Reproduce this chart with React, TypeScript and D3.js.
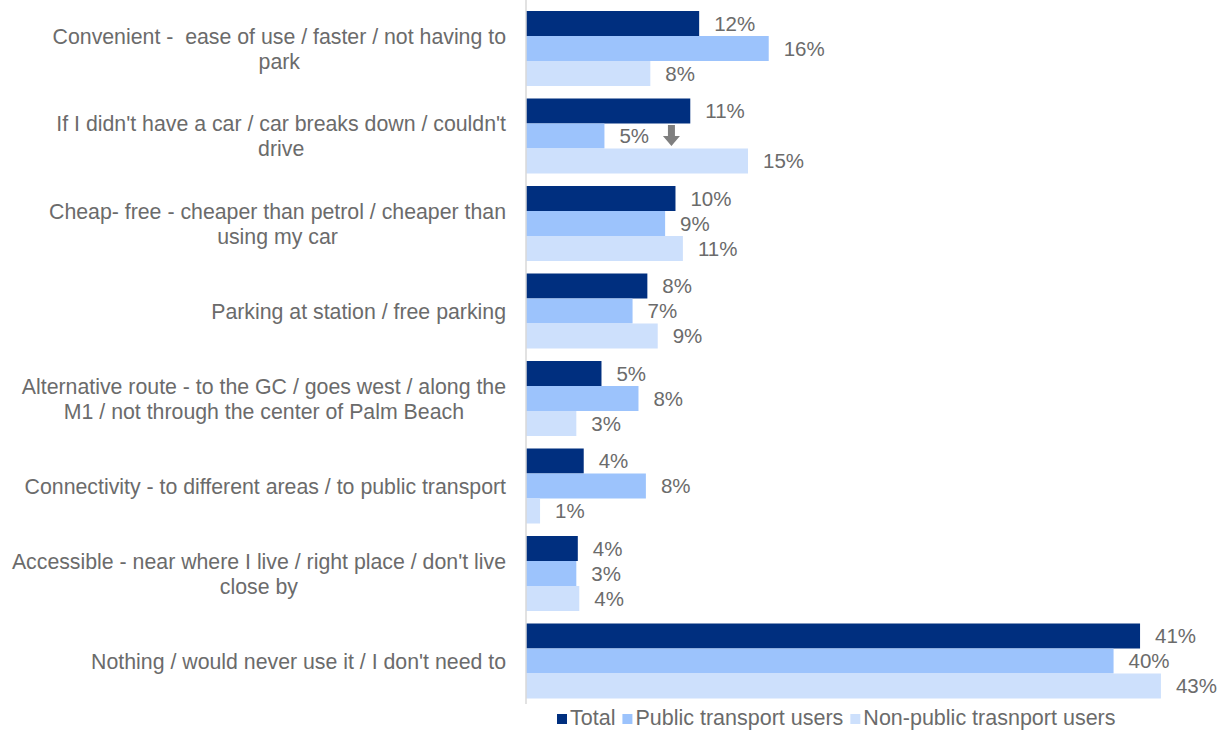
import React, { useEffect, useRef } from "react";
import * as d3 from "d3";

const categories = [
  ["Convenient -  ease of use / faster / not having to", "park"],
  ["If I didn't have a car / car breaks down / couldn't", "drive"],
  ["Cheap- free - cheaper than petrol / cheaper than", "using my car"],
  ["Parking at station / free parking"],
  ["Alternative route - to the GC / goes west / along the", "M1 / not through the center of Palm Beach"],
  ["Connectivity - to different areas / to public transport"],
  ["Accessible - near where I live / right place / don't live", "close by"],
  ["Nothing / would never use it / I don't need to"],
];
const seriesNames = ["Total", "Public transport users", "Non-public trasnport users"];
const totalValues = [11.7, 11.1, 10.1, 8.2, 5.1, 3.9, 3.5, 41.49];
const publicValues = [16.4, 5.3, 9.4, 7.2, 7.6, 8.1, 3.4, 39.7];
const nonPublicValues = [8.4, 15.0, 10.6, 8.9, 3.4, 0.95, 3.6, 42.9];
const colors = ["#002f7f", "#9cc3fc", "#cde0fc"];

const W = 1219, H = 730;
const FONT = "'Liberation Sans', Arial, sans-serif";
const TXT = "#6b6b6b";

export default function App() {
  const ref = useRef<SVGSVGElement>(null);
  useEffect(() => {
    const svg = d3.select(ref.current);
    svg.selectAll("*").remove();
    const keys = categories.map((_, i) => String(i));
    const x = d3.scaleLinear().domain([0, 45]).range([526, 526 + 45 * 14.8]);
    const y0 = d3.scaleBand().domain(keys).range([4.75, 704.75]).paddingInner(1 / 7).paddingOuter(1 / 14);
    const y1 = d3.scaleBand().domain(seriesNames).range([0, y0.bandwidth()]);
    const seriesVals = [totalValues, publicValues, nonPublicValues];

    const g = svg.append("g");
    keys.forEach((k, ci) => {
      const gy = y0(k)!;
      seriesNames.forEach((s, si) => {
        const v = seriesVals[si][ci];
        const by = gy + y1(s)!;
        g.append("rect").attr("x", x(0)).attr("y", by).attr("width", x(v) - x(0)).attr("height", y1.bandwidth()).attr("fill", colors[si]);
        g.append("text").attr("x", x(v) + 15).attr("y", by + y1.bandwidth() / 2).attr("dy", "0.36em")
          .attr("font-family", FONT).attr("font-size", 20.5).attr("fill", TXT).text(`${Math.round(v)}%`);
        if (ci === 1 && si === 1) {
          const ax = x(v) + 67, ay = by + y1.bandwidth() / 2;
          g.append("path").attr("d", `M${ax - 3.5},${ay - 11} h7 v11 h5 l-8.5,10 l-8.5,-10 h5 z`).attr("fill", "#7f7f7f");
        }
      });
      const lines = categories[ci];
      const cy = gy + y0.bandwidth() / 2;
      const texts = lines.map((line, li) =>
        g.append("text").attr("y", cy + (li - (lines.length - 1) / 2) * 25).attr("dy", "0.36em")
          .attr("font-family", FONT).attr("font-size", 21.3).attr("fill", TXT)
          .style("white-space", "pre").text(line)
      );
      const maxW = Math.max(...texts.map((t) => (t.node() as SVGTextElement).getComputedTextLength()));
      const center = 506 - maxW / 2;
      texts.forEach((t) => t.attr("x", center).attr("text-anchor", "middle"));
    });
    g.append("line").attr("x1", 526).attr("x2", 526).attr("y1", 0).attr("y2", 704).attr("stroke", "#d9d9d9").attr("stroke-width", 1.5);

    // legend
    const lg = svg.append("g");
    let cx = 557;
    seriesNames.forEach((s, si) => {
      lg.append("rect").attr("x", cx).attr("y", 714).attr("width", 10).attr("height", 10).attr("fill", colors[si]);
      const t = lg.append("text").attr("x", cx + 13).attr("y", 725).attr("font-family", FONT).attr("font-size", 21.5).attr("fill", TXT).text(s);
      const w = (t.node() as SVGTextElement).getComputedTextLength();
      cx = cx + 13 + w + 7;
    });
  }, []);
  return (
    <svg ref={ref} width={W} height={H} style={{ position: "absolute", left: 0, top: 0, background: "#fff" }} />
  );
}
